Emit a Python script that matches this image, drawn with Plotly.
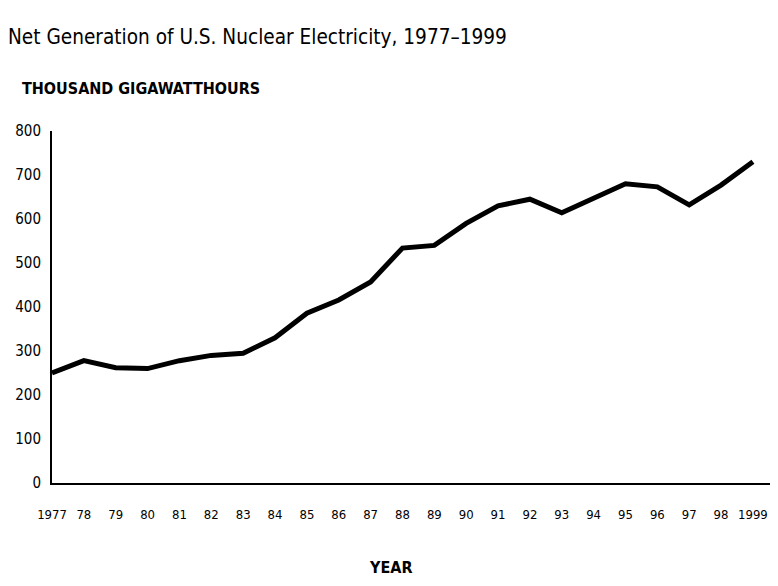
import plotly.graph_objects as go

years = list(range(1977, 2000))
generation = [250, 278, 262, 260, 278, 290, 295, 330, 386, 416, 457, 534,
              540, 590, 630, 645, 614, 648, 680, 673, 632, 677, 730]
x_tick_labels = ["1977", "78", "79", "80", "81", "82", "83", "84", "85", "86",
                 "87", "88", "89", "90", "91", "92", "93", "94", "95", "96",
                 "97", "98", "1999"]
y_ticks = [0, 100, 200, 300, 400, 500, 600, 700, 800]

FONT = "Liberation Sans Narrow, Arial Narrow, DejaVu Sans Condensed, sans-serif"

# the page body has an 8px default margin; work in page pixels and offset
OFF = 8
W, H = 778 - OFF, 586 - OFF
L = 52 - OFF
T = 131 - OFF
R = W - (777 - OFF)
B = H - (483 - OFF)
pw = W - L - R
ph = H - T - B

def px_x(px):
    return (px - OFF - L) / pw

def px_y(py):
    return (H - B - (py - OFF)) / ph

fig = go.Figure()
fig.add_trace(go.Scatter(
    x=years, y=generation, mode="lines",
    line=dict(color="black", width=5),
    hoverinfo="x+y", showlegend=False,
))

fig.update_layout(
    width=W, height=H,
    margin=dict(l=L, r=R, t=T, b=B, autoexpand=False),
    paper_bgcolor="white", plot_bgcolor="white",
    font=dict(family=FONT, color="black"),
    title=dict(
        text="Net Generation of U.S. Nuclear Electricity, 1977–1999",
        x=0.0, xanchor="left", xref="container",
        y=1 - (37 - OFF) / H, yanchor="middle", yref="container",
        font=dict(family=FONT, size=20.6, color="black"),
    ),
    xaxis=dict(
        range=[1977, 1977 + (777 - 52) / 31.86],
        tickvals=years, ticktext=x_tick_labels,
        showgrid=False, zeroline=False, automargin=False,
        showline=True, linecolor="black", linewidth=2,
        ticks="outside", ticklen=18, tickcolor="rgba(0,0,0,0)",
        tickfont=dict(family=FONT, size=13, color="black"),
        tickangle=0,
    ),
    yaxis=dict(
        range=[0, 800],
        tickvals=y_ticks,
        showgrid=False, zeroline=False, automargin=False,
        showline=True, linecolor="black", linewidth=2,
        ticks="outside", ticklen=6, tickcolor="rgba(0,0,0,0)",
        tickfont=dict(family=FONT, size=15, color="black"),
    ),
    annotations=[
        dict(text="<b>THOUSAND GIGAWATTHOURS</b>", xref="paper", yref="paper",
             x=px_x(20), y=px_y(89), xanchor="left", yanchor="middle",
             showarrow=False, font=dict(family=FONT, size=16, color="black")),
        dict(text="<b>YEAR</b>", xref="paper", yref="paper",
             x=px_x(390), y=px_y(567), xanchor="center", yanchor="middle",
             showarrow=False, font=dict(family=FONT, size=16, color="black")),
    ],
)

fig.write_html("out.html")
